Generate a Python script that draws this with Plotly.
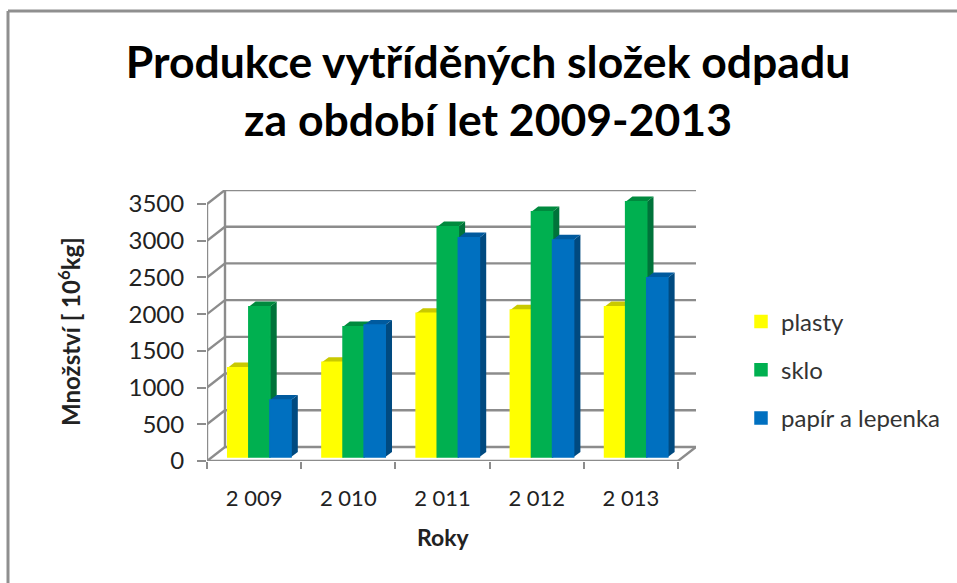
import plotly.graph_objects as go

years = ["2 009", "2 010", "2 011", "2 012", "2 013"]
series_names = ["plasty", "sklo", "papír a lepenka"]
plasty = [1217, 1290, 1957, 2003, 2047]
sklo = [2047, 1775, 3137, 3342, 3478]
papir = [776, 1798, 2988, 2956, 2443]
y_ticks = [0, 500, 1000, 1500, 2000, 2500, 3000, 3500]

front = ["#FFFF00", "#00B050", "#0070C0"]
top_col = ["#C9C900", "#008A3E", "#005A9E"]
side_col = ["#A8A800", "#00733A", "#004A80"]
GRID = "#8C8C8C"

# scene geometry (data units)
WALL_DX, WALL_DY = 0.191, 191
BAR_BASE = 54
BAR_W = 0.224
GROUP_X = 0.556
BAR_DX, BAR_DY = 0.072, 70
n = len(years)

# plot area in page pixels, used for paper-anchored items
L, R, T, B = 207, 696, 190, 461
def px(v):
    return (v - L) / (R - L)
def py(v):
    return (B - v) / (B - T)

fig = go.Figure()
shapes = []

def poly(points, fill):
    path = "M " + " L ".join(f"{a},{b}" for a, b in points) + " Z"
    return dict(type="path", path=path, xref="x", yref="y", fillcolor=fill,
                line=dict(width=0), layer="below")

def seg(x0, y0, x1, y1):
    return dict(type="line", x0=x0, y0=y0, x1=x1, y1=y1, xref="x", yref="y",
                line=dict(color=GRID, width=2.4), layer="below")

def frame(x0, y0, x1, y1):
    return dict(type="line", x0=px(x0), y0=py(y0), x1=px(x1), y1=py(y1),
                xref="paper", yref="paper", line=dict(color="#8F8F8F", width=3))

shapes.append(frame(8, 11, 957, 11))
shapes.append(frame(8, 11, 8, 583))

for v in y_ticks:
    shapes.append(seg(0, v, WALL_DX, v + WALL_DY))
    shapes.append(seg(WALL_DX, v + WALL_DY, n + WALL_DX, v + WALL_DY))
shapes.append(seg(WALL_DX, WALL_DY, WALL_DX, y_ticks[-1] + WALL_DY))
shapes.append(seg(n, 0, n + WALL_DX, WALL_DY))
shapes.append(seg(0, 0, n, 0))
shapes.append(seg(0, 0, 0, y_ticks[-1]))

for s, vals in enumerate([plasty, sklo, papir]):
    off = -1.5 * BAR_W + s * BAR_W
    for i, v in enumerate(vals):
        x0 = i + GROUP_X + off
        x1 = x0 + BAR_W
        t = v + BAR_BASE
        shapes.append(poly([(x1, BAR_BASE), (x1 + BAR_DX, BAR_BASE + BAR_DY),
                            (x1 + BAR_DX, t + BAR_DY), (x1, t)], side_col[s]))
        shapes.append(poly([(x0, t), (x0 + BAR_DX, t + BAR_DY),
                            (x1 + BAR_DX, t + BAR_DY), (x1, t)], top_col[s]))
    fig.add_trace(go.Bar(
        x=[i + GROUP_X for i in range(n)], y=vals, base=BAR_BASE, width=BAR_W,
        offset=off, name=series_names[s], legendgroup=series_names[s],
        marker=dict(color=front[s], line=dict(width=1.5, color=front[s])),
    ))

fig.update_layout(
    width=957, height=583,
    margin=dict(l=L, r=957 - R, t=T, b=583 - B, autoexpand=False),
    paper_bgcolor="white", plot_bgcolor="rgba(0,0,0,0)",
    font=dict(family="Lato", color="#222222"),
    barmode="overlay",
    shapes=shapes,
    title=dict(
        text="<b>Produkce vytříděných složek odpadu<br>za období let 2009-2013</b>",
        x=488 / 957, xanchor="center", y=1 - 78 / 583, yanchor="middle",
        yref="container",
        font=dict(family="Lato", size=44.5, color="black"),
    ),
    legend=dict(x=px(741), xanchor="left", y=py(370), yanchor="middle",
                font=dict(size=24, color="#333333"), tracegroupgap=14,
                bgcolor="rgba(0,0,0,0)"),
    xaxis=dict(
        range=[0, n + WALL_DX], tickmode="array",
        tickvals=[i + 0.5 for i in range(n)], ticktext=years,
        ticks="outside", ticklen=18, tickcolor="rgba(0,0,0,0)",
        showgrid=False, zeroline=False, showline=False,
        tickfont=dict(size=22, color="#222222"),
        minor=dict(tickmode="array", tickvals=list(range(n + 1)), ticks="outside",
                   ticklen=7, tickwidth=2.4, tickcolor=GRID, showgrid=False),
    ),
    yaxis=dict(
        range=[0, y_ticks[-1] + WALL_DY], tickmode="array", tickvals=y_ticks,
        ticks="outside", ticklen=9, tickwidth=2.4, tickcolor=GRID, ticklabelstandoff=8,
        showgrid=False, zeroline=False, showline=False,
        tickfont=dict(size=24, color="#222222"),
    ),
    annotations=[
        dict(text="<b>Roky</b>", xref="paper", yref="paper", x=px(443), y=py(537),
             xanchor="center", yanchor="middle", showarrow=False,
             font=dict(size=23, color="#222222")),
        dict(text="<b>Množství [ 10<sup>6</sup>kg]</b>", xref="paper", yref="paper",
             x=px(69), y=py(332), xanchor="center", yanchor="middle", textangle=-90,
             showarrow=False, font=dict(size=24, color="#222222")),
    ],
)
fig.write_html("out.html", config={"displayModeBar": False},
               post_script="document.body.style.margin='0';")
